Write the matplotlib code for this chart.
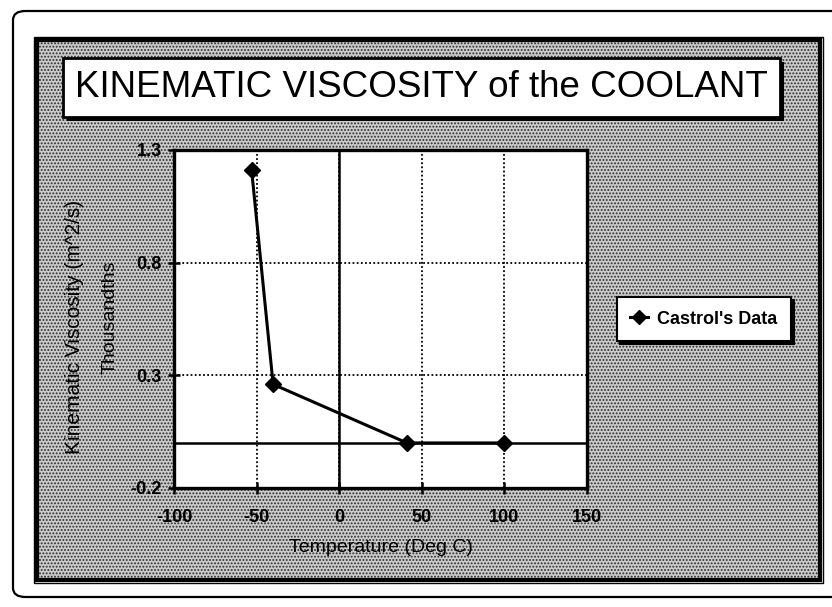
import matplotlib
matplotlib.use('Agg')
import matplotlib.pyplot as plt
from matplotlib.patches import Rectangle, FancyBboxPatch

plt.rcParams['font.family'] = ['Liberation Sans', 'DejaVu Sans']
plt.rcParams['hatch.linewidth'] = 0.9

# data (viscosity in thousandths of m^2/s)
temperature = [-53, -40, 41, 100]
viscosity = [1.21, 0.26, 0.0, 0.0]
series_name = "Castrol's Data"

x_ticks = [-100, -50, 0, 50, 100, 150]
y_ticks = [-0.2, 0.3, 0.8, 1.3]

W, H = 832, 607
fig = plt.figure(figsize=(W / 100, H / 100), dpi=100)
fig.patch.set_facecolor('white')


def px(x0, y0, x1, y1):
    # pixel box (top-left origin) -> figure fraction rect
    return x0 / W, 1 - y1 / H, (x1 - x0) / W, (y1 - y0) / H


def add_rect(box, **kw):
    l, b, w, h = box
    p = Rectangle((l, b), w, h, transform=fig.transFigure, zorder=-5, **kw)
    fig.patches.append(p)
    return p


# outer rounded frame
l, b, w, h = px(13, 11, 850, 597)
fig.patches.append(FancyBboxPatch((l, b), w, h, boxstyle='round,pad=0,rounding_size=0.015',
                                  transform=fig.transFigure, fill=False, lw=1.6, ec='black',
                                  zorder=-6))

# stippled panel with double border
add_rect(px(37, 40, 820, 580), facecolor='#cbcbcb', hatch='.....', edgecolor='#2a2a2a', lw=0)
add_rect(px(37, 40, 820, 580), fill=False, edgecolor='black', lw=3)
add_rect(px(34, 37, 823, 583), fill=False, edgecolor='black', lw=1)

# title box with shadow
l, b, w, h = px(63, 58, 780, 117)
add_rect((l + 4 / W, b - 4 / H, w, h), facecolor='black', edgecolor='black', lw=0)
add_rect((l, b, w, h), facecolor='white', edgecolor='black', lw=2)
fig.text(l + w / 2, b + h / 2, 'KINEMATIC VISCOSITY of the COOLANT',
         ha='center', va='center', fontsize=26.5)

# plot area
ax = fig.add_axes(px(174, 150, 587, 488))
ax.set_facecolor('white')
ax.plot(temperature, viscosity, color='black', lw=2.2, marker='D', markersize=8.5,
        label=series_name, zorder=5, clip_on=False)
ax.axhline(0, color='black', lw=1.8, zorder=3)
ax.axvline(0, color='black', lw=1.8, zorder=3)

ax.set_xlim(-100, 150)
ax.set_ylim(-0.2, 1.3)
ax.set_xticks(x_ticks)
ax.set_yticks(y_ticks)
ax.set_xticklabels([str(t) for t in x_ticks])
ax.set_yticklabels([str(t) for t in y_ticks])
ax.grid(True, color='black', linestyle=(0, (1, 1.3)), lw=1.3)
ax.tick_params(length=8, width=1.8, direction='inout', labelsize=13)
ax.tick_params(axis='x', pad=11)
ax.tick_params(axis='y', pad=5)
for lab in ax.get_xticklabels() + ax.get_yticklabels():
    lab.set_fontweight('bold')
for sp in ax.spines.values():
    sp.set_linewidth(2.4)

ax.set_xlabel('Temperature (Deg C)', fontsize=14)
ax.xaxis.label.set_va('center')
ax.xaxis.set_label_coords(0.5, (488 - 547) / 338)
fig.text(75 / W, 1 - 327 / H, 'Kinematic Viscosity (m^2/s)', rotation=90,
         ha='center', va='center', fontsize=15)
fig.text(110 / W, 1 - 317 / H, 'Thousandths', rotation=90,
         ha='center', va='center', fontsize=14)

# legend with shadow
leg = fig.legend(loc='center', bbox_to_anchor=(704 / W, 1 - 319 / H), frameon=True,
                 fancybox=False, shadow={'color': 'black', 'alpha': 1}, fontsize=13,
                 handlelength=1.0, handletextpad=0.5, borderpad=0.75, markerscale=0.85)
leg.get_frame().set_edgecolor('black')
leg.get_frame().set_linewidth(1.5)
for t in leg.get_texts():
    t.set_fontweight('bold')

fig.savefig('out.png', dpi=100, facecolor='white')
